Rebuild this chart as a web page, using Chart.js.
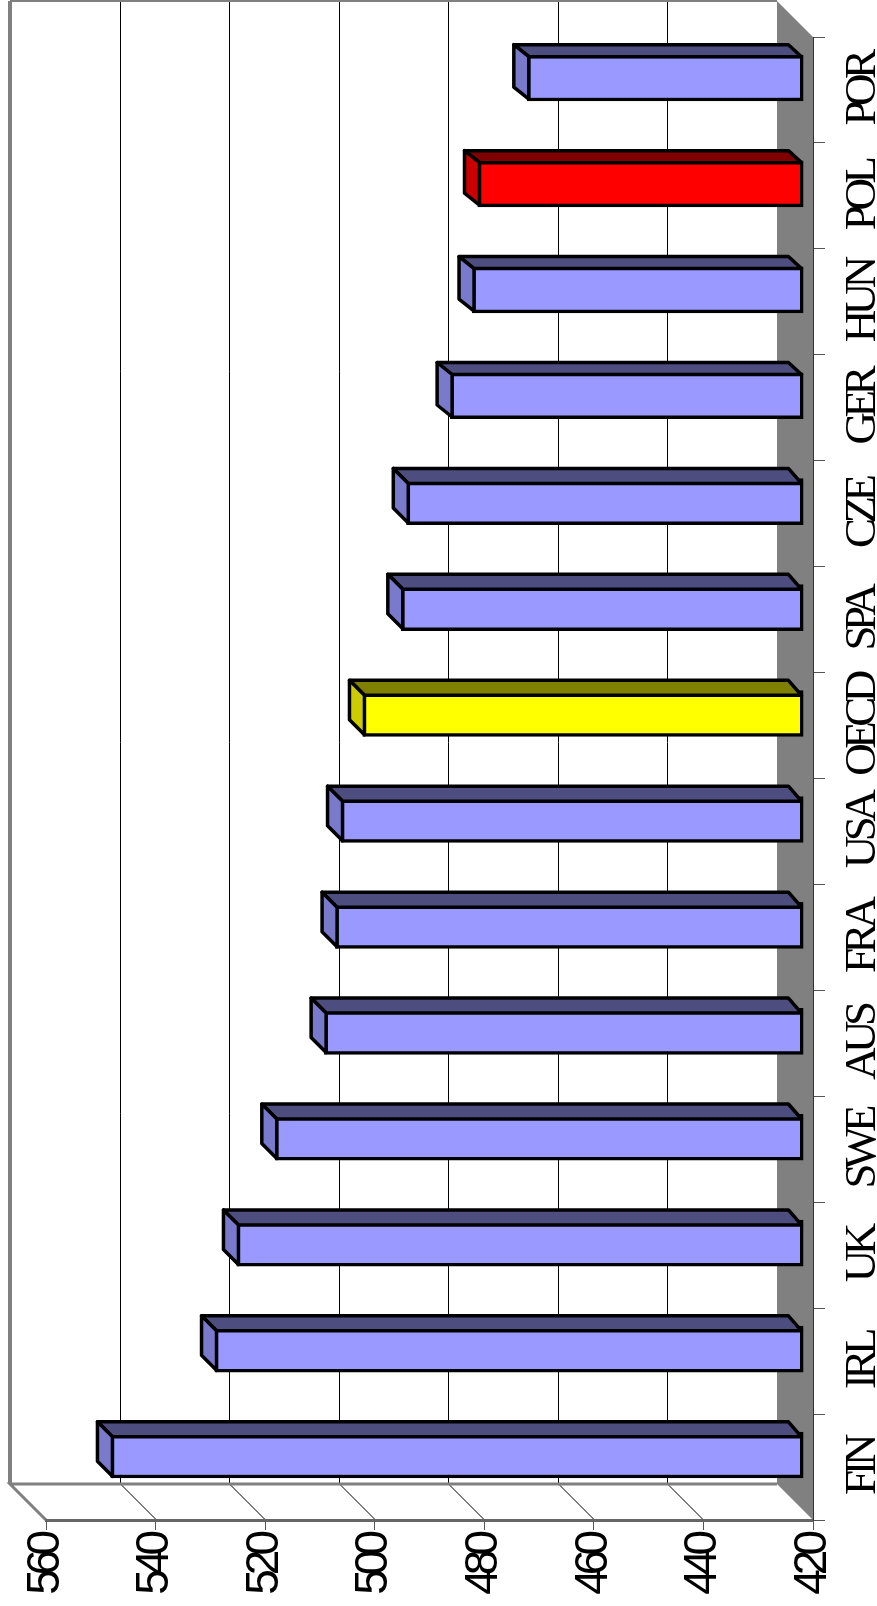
<!DOCTYPE html>
<html>
<head>
<meta charset="utf-8">
<style>
    html, body { margin: 0; padding: 0; background: #fff; }
    canvas { display: block; }
</style>
<script src="https://cdn.jsdelivr.net/npm/chart.js@4"></script>
</head>
<body>
<canvas id="grafica" width="877" height="1606"></canvas>
<script>
const categories = ['FIN', 'IRL', 'UK', 'SWE', 'AUS', 'FRA', 'USA', 'OECD', 'SPA', 'CZE', 'GER', 'HUN', 'POL', 'POR'];
const scores = [546, 527, 523, 516, 507, 505, 504, 500, 493, 492, 484, 480, 479, 470];
const tickLabels = [420, 440, 460, 480, 500, 520, 540, 560];

const frontColors = categories.map(function (c) {
    return c === 'POL' ? '#FF0000' : c === 'OECD' ? '#FFFF00' : '#9999FF';
});
const topColors = categories.map(function (c) {
    return c === 'POL' ? '#800000' : c === 'OECD' ? '#808000' : '#4D4D80';
});
const sideColors = categories.map(function (c) {
    return c === 'POL' ? '#CC0000' : c === 'OECD' ? '#CCCC00' : '#7A7ACC';
});

// profundidad del "3D"
const WALL_DX = -36, WALL_DY = -36;
const BAR_DX = -12, BAR_DY = -12;
const DEPTH_RIGHT = 13, DEPTH_LEFT = 15, DEPTH_Y = 12;
const LINE = 3.5;

function poly(ctx, pts, fill, stroke, width) {
    ctx.beginPath();
    pts.forEach(function (p, i) {
        if (i === 0) ctx.moveTo(p[0], p[1]); else ctx.lineTo(p[0], p[1]);
    });
    ctx.closePath();
    if (fill) { ctx.fillStyle = fill; ctx.fill(); }
    if (stroke) { ctx.strokeStyle = stroke; ctx.lineWidth = width; ctx.stroke(); }
}

const wallPlugin = {
    id: 'wall',
    beforeDraw: function (chart) {
        const ctx = chart.ctx;
        const a = chart.chartArea;
        const x = chart.scales.x;
        const wallTop = a.top + WALL_DY;
        const wallBottom = a.bottom + WALL_DY;
        const wallLeft = a.left + WALL_DX;
        const wallRight = a.right + WALL_DX;

        // pared lateral gris
        poly(ctx, [[wallRight, wallTop], [a.right, a.top], [a.right, a.bottom], [wallRight, wallBottom]], '#808080');

        // lineas de la pared y del piso
        ctx.lineWidth = 1;
        ctx.strokeStyle = '#000';
        x.ticks.forEach(function (t) {
            if (t.value === 420 || t.value === 560) return;
            const px = Math.round(x.getPixelForValue(t.value)) + 0.5;
            ctx.beginPath();
            ctx.moveTo(px + WALL_DX, wallTop);
            ctx.lineTo(px + WALL_DX, wallBottom);
            ctx.lineTo(px, a.bottom);
            ctx.stroke();
        });

        // borde de la pared
        ctx.strokeStyle = '#808080';
        ctx.lineWidth = 2;
        ctx.beginPath();
        ctx.moveTo(wallRight, wallTop);
        ctx.lineTo(wallLeft, wallTop);
        ctx.stroke();
        ctx.lineWidth = 4;
        ctx.beginPath();
        ctx.moveTo(wallLeft, wallTop);
        ctx.lineTo(wallLeft, wallBottom);
        ctx.stroke();
        ctx.lineWidth = 3;
        ctx.beginPath();
        ctx.moveTo(a.left, a.bottom);
        ctx.lineTo(wallLeft, wallBottom);
        ctx.lineTo(wallRight, wallBottom);
        ctx.stroke();
    },
    beforeDatasetsDraw: function (chart) {
        chart.ctx.save();
        chart.ctx.translate(BAR_DX, BAR_DY);
    },
    afterDatasetsDraw: function (chart) {
        const ctx = chart.ctx;
        ctx.lineJoin = 'round';
        chart.getDatasetMeta(0).data.forEach(function (bar, i) {
            // las barras de abajo tienen la cara superior un poco mas ancha
            const extra = i < 10 ? 3 : 0;
            const backTop = bar.y - bar.height / 2 + LINE / 2 - DEPTH_Y;
            const top = backTop + DEPTH_Y + extra;
            const bottom = bar.y + bar.height / 2 - LINE / 2;
            const backBottom = bottom - DEPTH_Y - extra;
            const left = bar.x + LINE / 2;
            const right = bar.base - LINE / 2;
            poly(ctx, [[left, top], [left - DEPTH_LEFT, backTop], [right - DEPTH_RIGHT, backTop], [right, top]], topColors[i], '#000', LINE);
            poly(ctx, [[left, top], [left - DEPTH_LEFT, backTop], [left - DEPTH_LEFT, backBottom], [left, bottom]], sideColors[i], '#000', LINE);
        });
        ctx.restore();
    }
};

function espaciado(px) {
    return function (scale) {
        if (scale.conEspaciado) return;
        scale.conEspaciado = true;
        const original = scale.drawLabels;
        scale.drawLabels = function (area) {
            const ctx = this.ctx;
            ctx.save();
            ctx.letterSpacing = px;
            original.call(this, area);
            ctx.restore();
        };
    };
}

new Chart(document.getElementById('grafica').getContext('2d'), {
    type: 'bar',
    data: {
        labels: categories,
        datasets: [{
            data: scores,
            base: 419.6,
            backgroundColor: frontColors,
            borderColor: '#000',
            borderWidth: LINE,
            borderSkipped: false,
            barThickness: 46,
            clip: false
        }]
    },
    plugins: [wallPlugin],
    options: {
        indexAxis: 'y',
        responsive: false,
        animation: false,
        layout: {
            autoPadding: false,
            padding: { left: 46, top: 37, right: 0, bottom: 0 }
        },
        plugins: {
            legend: { display: false },
            tooltip: { enabled: false }
        },
        scales: {
            x: {
                type: 'linear',
                position: 'bottom',
                reverse: true,
                min: 420,
                max: 560,
                afterBuildTicks: function (scale) {
                    scale.ticks = tickLabels.map(function (v) { return { value: v }; });
                },
                afterFit: function (scale) { scale.height = 86; },
                afterUpdate: espaciado('-6px'),
                border: { display: true, color: '#666', width: 3 },
                grid: { drawOnChartArea: false, drawTicks: true, color: '#555', tickLength: 10 },
                ticks: {
                    minRotation: 90,
                    maxRotation: 90,
                    padding: 6,
                    color: '#000',
                    font: { family: '"Liberation Sans", Arial, sans-serif', size: 46 }
                }
            },
            y: {
                type: 'category',
                position: 'right',
                reverse: true,
                afterFit: function (scale) { scale.width = 64; },
                afterUpdate: espaciado('-5.5px'),
                border: { display: true, color: '#333', width: 1 },
                grid: { drawOnChartArea: false, drawTicks: true, offset: true, color: '#555', tickLength: 12 },
                ticks: {
                    autoSkip: false,
                    minRotation: 90,
                    maxRotation: 90,
                    crossAlign: 'center',
                    padding: -23,
                    color: '#000',
                    font: { family: '"Liberation Serif", "Times New Roman", serif', size: 45 }
                }
            }
        }
    }
});
</script>
</body>
</html>
